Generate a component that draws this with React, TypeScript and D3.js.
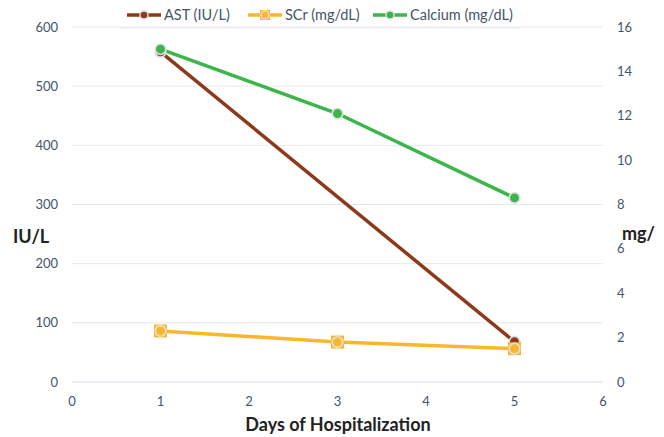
import * as d3 from 'd3';

const DAYS = [1, 3, 5];
// AST has no reading on day 3; the line connects days 1 and 5
const AST = [558, null, 68];
const SCR = [2.3, 1.8, 1.5];
const CALCIUM = [15, 12.1, 8.3];

const X_TICKS = [0, 1, 2, 3, 4, 5, 6];
const LEFT_TICKS = [0, 100, 200, 300, 400, 500, 600];
const RIGHT_TICKS = [0, 2, 4, 6, 8, 10, 12, 14, 16];

const VW = 664;
const VH = 437;
const PLOT = { left: 72, right: 603, top: 27, bottom: 382 };

const BROWN = '#8c3a1b';
const ORANGE = '#fbb629';
const GREEN = '#3cb54a';
const TICK_TEXT = '#44546a';
const GRID = '#e4e9ee';
const RING = '#e0e0e0';
const FONT = 'Lato, "Open Sans", "Noto Sans", sans-serif';

const x = d3.scaleLinear().domain([0, 6]).range([PLOT.left, PLOT.right]);
const yL = d3.scaleLinear().domain([0, 600]).range([PLOT.bottom, PLOT.top]);
const yR = d3.scaleLinear().domain([0, 16]).range([PLOT.bottom, PLOT.top]);

const series = [
  { name: 'AST (IU/L)', values: AST, y: yL, color: BROWN, square: false },
  { name: 'SCr (mg/dL)', values: SCR, y: yR, color: ORANGE, square: true },
  { name: 'Calcium (mg/dL)', values: CALCIUM, y: yR, color: GREEN, square: false },
];

const legendX = [127, 248, 373];

function Marker({ cx, cy, color, square }: { cx: number; cy: number; color: string; square: boolean }) {
  return (
    <g>
      {square && <rect x={cx - 6.5} y={cy - 6.5} width={13} height={13} fill={color} />}
      <circle cx={cx} cy={cy} r={5.3} fill={color} stroke={RING} strokeWidth={1.7} />
    </g>
  );
}

export default function App() {
  return (
    <svg width={VW} height={VH} viewBox={`0 0 ${VW} ${VH}`}
      style={{ display: 'block', position: 'absolute', left: 0, top: 0, background: '#fff' }}>
      {LEFT_TICKS.map(t => (
        <g key={`l${t}`}>
          <line x1={PLOT.left} x2={PLOT.right} y1={yL(t)} y2={yL(t)}
            stroke={t === 0 ? '#d5dde5' : GRID} strokeWidth={1} />
          <text x={58} y={yL(t)} dy="0.35em" textAnchor="end" fontSize={13}
            fill={TICK_TEXT} fontFamily={FONT}>{t}</text>
        </g>
      ))}
      {RIGHT_TICKS.map(t => (
        <text key={`r${t}`} x={617} y={yR(t)} dy="0.35em" textAnchor="start" fontSize={13}
          fill={TICK_TEXT} fontFamily={FONT}>{t}</text>
      ))}
      {X_TICKS.map(t => (
        <text key={`x${t}`} x={x(t)} y={401} dy="0.35em" textAnchor="middle" fontSize={13}
          fill={TICK_TEXT} fontFamily={FONT}>{t}</text>
      ))}

      <text x={338} y={425} dy="0.35em" textAnchor="middle" fontSize={18} fontWeight={700}
        fill="#222" fontFamily={FONT}>Days of Hospitalization</text>
      <text x={13} y={237} dy="0.35em" textAnchor="start" fontSize={18} fontWeight={700}
        fill="#222" fontFamily={FONT}>IU/L</text>
      <text x={622} y={234} dy="0.35em" textAnchor="start" fontSize={18} fontWeight={700}
        fill="#222" fontFamily={FONT}>mg/</text>

      {series.map(s => {
        const pts = s.values
          .map((v, i) => ({ day: DAYS[i], v }))
          .filter(p => p.v != null) as { day: number; v: number }[];
        const line = d3.line<{ day: number; v: number }>()
          .x(p => x(p.day))
          .y(p => s.y(p.v));
        return (
          <path key={`s${s.name}`} d={line(pts) ?? ''} fill="none"
            stroke={s.color} strokeWidth={3.5} strokeLinejoin="round" />
        );
      })}
      {series.map(s => (
        <g key={`m${s.name}`}>
          {s.values.map((v, i) => v == null ? null : (
            <Marker key={i} cx={x(DAYS[i])} cy={s.y(v)} color={s.color} square={s.square} />
          ))}
        </g>
      ))}

      {series.map((s, i) => (
        <g key={`lg${s.name}`} transform={`translate(${legendX[i]}, 15)`}>
          <line x1={0} x2={34} y1={0} y2={0} stroke={s.color} strokeWidth={3.5} />
          {s.square && <rect x={12} y={-5} width={10} height={10} fill={s.color} />}
          <circle cx={17} cy={0} r={4} fill={s.color} stroke={RING} strokeWidth={1.4} />
          <text x={37} y={0} dy="0.35em" fontSize={14.5} fill={TICK_TEXT} fontFamily={FONT}>{s.name}</text>
        </g>
      ))}
      <line x1={120} x2={520} y1={28} y2={28} stroke={GRID} strokeWidth={1} />
    </svg>
  );
}
